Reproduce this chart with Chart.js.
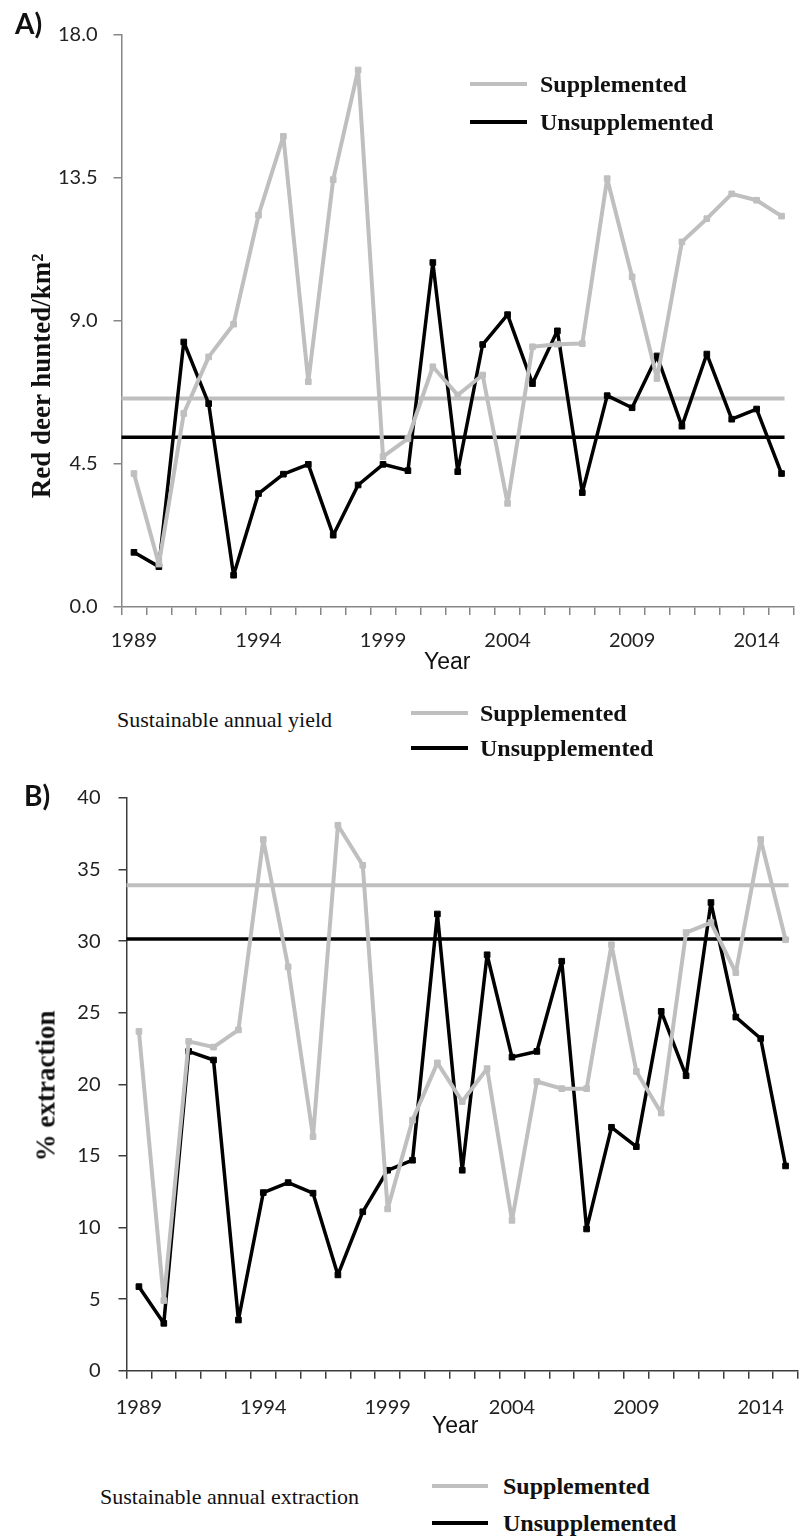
<!DOCTYPE html>
<html>
<head>
<meta charset="utf-8">
<title>Red deer harvest</title>
<script src="https://cdn.jsdelivr.net/npm/chart.js@4.4.0/dist/chart.umd.min.js"></script>
<style>
    body { margin: 0; width: 803px; height: 1539px; overflow: hidden; background: #fff; position: relative; }
    canvas { position: absolute; left: 0; }
    .txt { position: absolute; white-space: nowrap; color: #111; }
    .panel { font-family: Lato, "Open Sans", sans-serif; font-weight: 700; font-size: 28px; }
    .ytitle { font-family: "Liberation Serif", "DejaVu Serif", serif; font-weight: 700; font-size: 27px;
              transform: translate(-50%, -50%) rotate(-90deg); }
    .xtitle { font-family: "Liberation Sans Narrow", "Liberation Sans", sans-serif; font-size: 23px; transform: translateY(-50%); }
    .leg { font-family: "Liberation Serif", serif; font-weight: 700; font-size: 24px; transform: translateY(-50%); }
    .cap { font-family: "Liberation Serif", serif; font-size: 22px; transform: translateY(-50%); }
    .line { position: absolute; height: 4px; margin-top: -2px; }
</style>
</head>
<body>

<canvas id="chartA" width="803" height="680" style="top:0"></canvas>
<canvas id="chartB" width="803" height="680" style="top:760px"></canvas>

<!-- Panel A labels -->
<div class="txt panel" style="left:15px; top:6px;">A)</div>
<div class="txt ytitle" style="left:41px; top:376px;">Red deer hunted/km²</div>
<div class="line" style="left:470px; top:84px; width:57px; background:#bfbfbf;"></div>
<div class="txt leg" style="left:540px; top:84px;">Supplemented</div>
<div class="line" style="left:470px; top:122px; width:57px; background:#000;"></div>
<div class="txt leg" style="left:540px; top:122px;">Unsupplemented</div>
<div class="txt xtitle" style="left:424px; top:661px;">Year</div>
<div class="txt cap" style="left:117px; top:720px;">Sustainable annual yield</div>
<div class="line" style="left:411px; top:713px; width:57px; background:#bfbfbf;"></div>
<div class="txt leg" style="left:480px; top:713px;">Supplemented</div>
<div class="line" style="left:411px; top:748px; width:57px; background:#000;"></div>
<div class="txt leg" style="left:480px; top:748px;">Unsupplemented</div>

<!-- Panel B labels -->
<div class="txt panel" style="left:24px; top:778px;">B)</div>
<div class="txt ytitle" style="left:46px; top:1086px;">% extraction</div>
<div class="txt xtitle" style="left:432px; top:1425px;">Year</div>
<div class="txt cap" style="left:100px; top:1497px;">Sustainable annual extraction</div>
<div class="line" style="left:432px; top:1486px; width:56px; background:#bfbfbf;"></div>
<div class="txt leg" style="left:503px; top:1486px;">Supplemented</div>
<div class="line" style="left:432px; top:1523px; width:56px; background:#000;"></div>
<div class="txt leg" style="left:503px; top:1523px;">Unsupplemented</div>

<script>
// Data
const years = ['1989', '1990', '1991', '1992', '1993', '1994', '1995', '1996', '1997', '1998',
    '1999', '2000', '2001', '2002', '2003', '2004', '2005', '2006', '2007', '2008',
    '2009', '2010', '2011', '2012', '2013', '2014', '2015'];

// A) red deer hunted per km2
const yieldSupplemented = [4.2, 1.35, 6.09, 7.87, 8.9, 12.33, 14.81, 7.09, 13.45, 16.9,
    4.73, 5.3, 7.56, 6.67, 7.3, 3.26, 8.19, 8.27, 8.29, 13.48,
    10.39, 7.19, 11.49, 12.22, 13.0, 12.8, 12.3];
const yieldUnsupplemented = [1.72, 1.27, 8.34, 6.4, 1.0, 3.57, 4.18, 4.49, 2.26, 3.84,
    4.49, 4.29, 10.84, 4.26, 8.26, 9.2, 7.03, 8.69, 3.6, 6.65,
    6.27, 7.9, 5.69, 7.96, 5.91, 6.23, 4.2];
const yieldTicks = [0, 4.5, 9, 13.5, 18];
const sustainableYield = [6.56, 5.34]; // supplemented, unsupplemented

// B) % extraction
const extractionSupplemented = [23.7, 4.9, 23.0, 22.6, 23.8, 37.1, 28.2, 16.35, 38.1, 35.3,
    11.3, 17.5, 21.5, 18.8, 21.1, 10.5, 20.2, 19.7, 19.7, 29.75,
    20.9, 18.0, 30.6, 31.3, 27.8, 37.1, 30.1];
const extractionUnsupplemented = [5.87, 3.31, 22.3, 21.7, 3.54, 12.44, 13.14, 12.4, 6.69, 11.1,
    14.0, 14.7, 31.9, 14.0, 29.05, 21.9, 22.3, 28.6, 9.9, 17.0,
    15.65, 25.1, 20.6, 32.7, 24.7, 23.2, 14.3];
const extractionTicks = [0, 5, 10, 15, 20, 25, 30, 35, 40];
const sustainableExtraction = [33.9, 30.15];

const GREY = '#bfbfbf';
const BLACK = '#000000';

// Horizontal "sustainable" lines, drawn from the y axis to the last year
const refLinesPlugin = {
    id: 'refLines',
    beforeDatasetsDraw(chart, args, opts) {
        const ctx = chart.ctx;
        const x = chart.scales.x;
        const y = chart.scales.y;
        const xEnd = x.getPixelForValue(years.length - 1) + 3;
        (opts.lines || []).forEach(function(l) {
            const py = y.getPixelForValue(l.value);
            ctx.save();
            ctx.strokeStyle = l.color;
            ctx.lineWidth = l.width;
            ctx.beginPath();
            ctx.moveTo(chart.chartArea.left, py);
            ctx.lineTo(xEnd, py);
            ctx.stroke();
            ctx.restore();
        });
    }
};

function makeDataset(values, color, width) {
    return {
        data: values,
        borderColor: color,
        backgroundColor: color,
        borderWidth: width,
        borderJoinStyle: 'round',
        pointStyle: 'rect',
        pointRadius: 4,
        pointBorderWidth: 1,
        pointBorderColor: color,
        pointBackgroundColor: color,
        tension: 0
    };
}

function buildChart(canvasId, cfg) {
    const tickFont = { family: 'Lato, "Open Sans", sans-serif', size: 20 };
    return new Chart(document.getElementById(canvasId), {
        type: 'line',
        data: {
            labels: years,
            datasets: [
                makeDataset(cfg.supplemented, GREY, 4),
                makeDataset(cfg.unsupplemented, BLACK, 3.5)
            ]
        },
        options: {
            responsive: false,
            animation: false,
            layout: { padding: cfg.padding },
            plugins: {
                legend: { display: false },
                tooltip: { enabled: false },
                refLines: {
                    lines: [
                        { value: cfg.refs[0], color: GREY, width: 4 },
                        { value: cfg.refs[1], color: BLACK, width: 3.5 }
                    ]
                }
            },
            scales: {
                x: {
                    type: 'category',
                    offset: true,
                    afterFit: function(scale) { scale.height = cfg.xHeight; },
                    grid: {
                        offset: true,
                        drawOnChartArea: false,
                        drawTicks: true,
                        tickLength: 8,
                        color: cfg.axisColor,
                        lineWidth: 1.5
                    },
                    border: { display: true, color: cfg.axisColor, width: 1.5 },
                    ticks: {
                        autoSkip: false,
                        maxRotation: 0,
                        padding: cfg.xPad,
                        color: '#222',
                        font: tickFont,
                        callback: function(val, idx) { return idx % 5 === 0 ? years[idx] : ''; }
                    }
                },
                y: {
                    min: cfg.ticks[0],
                    max: cfg.ticks[cfg.ticks.length - 1],
                    afterFit: function(scale) { scale.width = cfg.yWidth; },
                    afterBuildTicks: function(scale) {
                        scale.ticks = cfg.ticks.map(function(v) { return { value: v }; });
                    },
                    grid: {
                        drawOnChartArea: false,
                        drawTicks: true,
                        tickLength: 8,
                        color: cfg.axisColor,
                        lineWidth: 1.5
                    },
                    border: { display: true, color: cfg.axisColor, width: 1.5 },
                    ticks: {
                        padding: cfg.yPad,
                        color: '#222',
                        font: tickFont,
                        callback: cfg.format
                    }
                }
            }
        },
        plugins: [refLinesPlugin]
    });
}

document.addEventListener('DOMContentLoaded', function() {
    buildChart('chartA', {
        supplemented: yieldSupplemented,
        unsupplemented: yieldUnsupplemented,
        refs: sustainableYield,
        ticks: yieldTicks,
        format: function(v) { return Number(v).toFixed(1); },
        padding: { top: 35, right: 9, bottom: 0, left: 0 },
        xHeight: 73,
        xPad: 14,
        yWidth: 121.5,
        yPad: 16,
        axisColor: '#868686'
    });

    buildChart('chartB', {
        supplemented: extractionSupplemented,
        unsupplemented: extractionUnsupplemented,
        refs: sustainableExtraction,
        ticks: extractionTicks,
        format: function(v) { return String(v); },
        padding: { top: 38, right: 0, bottom: 0, left: 0 },
        xHeight: 69.3,
        xPad: 17,
        yWidth: 126.5,
        yPad: 18,
        axisColor: '#3c3c3c'
    });
});
</script>
</body>
</html>
